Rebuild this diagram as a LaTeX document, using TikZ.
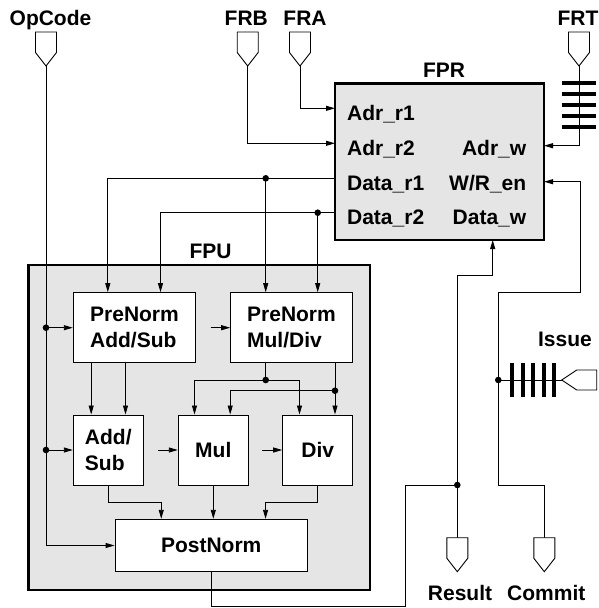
\documentclass[tikz,border=0pt]{standalone}
\usepackage{fontspec}
\setmainfont{Liberation Sans}
\usetikzlibrary{arrows.meta,calc}

\begin{document}
\begin{tikzpicture}[x=1pt, y=-1pt, line width=0.9pt,
    every node/.style={font=\bfseries\fontsize{21}{26}\selectfont, inner sep=0pt},
    >={Triangle[length=9pt,width=5pt]},
    port/.pic={\draw[fill=white] (0,0) -- (-10.5,-13.5) -- (-10.5,-34) -- (10.5,-34) -- (10.5,-13.5) -- cycle;}]
  \tikzstyle{unit}=[rectangle, draw, fill=white, line width=1pt, align=left]
  \tikzstyle{block}=[rectangle, draw, fill=gray!20, line width=2.4pt]

  \useasboundingbox (0,0) rectangle (599,608);

  % register file and unit
  \node[block, minimum width=341.7pt, minimum height=325pt] (fpu) at (199.2,427.5) {};
  \node[block, minimum width=209pt, minimum height=156.7pt] (fpr) at (439.5,161.7) {};

  \node[unit, minimum width=122.4pt, minimum height=70pt] (prea) at (134.5,327.7) {PreNorm\\Add/Sub};
  \node[unit, minimum width=121.6pt, minimum height=70pt] (prem) at (291.5,327.7) {PreNorm\\Mul/Div};
  \node[unit, minimum size=70pt] (addsub) at (108.3,450) {Add/\\Sub};
  \node[unit, minimum size=70pt] (mul) at (213.3,450) {Mul};
  \node[unit, minimum size=70pt] (div) at (317.7,450) {Div};
  \node[unit, minimum width=192.3pt, minimum height=52.4pt] (post) at (211.2,545.5) {PostNorm};

  % labels
  \node[anchor=base] (lopc) at (50.5,25.7) {OpCode};
  \node[anchor=base] (lfrb) at (246.3,25.5) {FRB};
  \node[anchor=base] (lfra) at (305,25.5) {FRA};
  \node[anchor=base] (lfrt) at (578,25.5) {FRT};
  \node[anchor=base] (lfpr) at (444,77.3) {FPR};
  \node[anchor=base] (lfpu) at (210.5,258.3) {FPU};
  \node[anchor=base] (liss) at (565,346) {Issue};
  \node[anchor=base] (lres) at (460,600) {Result};
  \node[anchor=base] (lcom) at (546.3,600) {Commit};

  \node[anchor=base west] (ar1) at (346.7,120) {Adr\_r1};
  \node[anchor=base west] (ar2) at (346.7,155) {Adr\_r2};
  \node[anchor=base west] (dr1) at (346.7,190) {Data\_r1};
  \node[anchor=base west] (dr2) at (346.7,224.5) {Data\_r2};
  \node[anchor=base east] (aw) at (526.7,155) {Adr\_w};
  \node[anchor=base east] (wr) at (526.7,190) {W/R\_en};
  \node[anchor=base east] (dw) at (526.7,224.5) {Data\_w};

  % pins
  \coordinate (opc) at (46,66);
  \coordinate (frb) at (247.7,66);
  \coordinate (fra) at (300,66);
  \coordinate (frt) at (579,66);
  \coordinate (res) at (457.3,537.7);
  \coordinate (com) at (544.3,537.7);
  \coordinate (iss) at (561.7,380);

  % ports of FPR
  \coordinate (p-ar1) at (335,108.3);
  \coordinate (p-ar2) at (335,143.3);
  \coordinate (p-aw) at (544,145.7);
  \coordinate (p-wr) at (544,181.7);
  \coordinate (p-dw) at (492.7,240);

  % addresses
  \draw[->] (fra) |- (p-ar1);
  \draw[->] (frb) |- (p-ar2);
  \draw[->] (frt) |- (p-aw);
  \foreach \y in {83.3,94.3,105,116,126.5}
    \draw[line width=4pt] (561.7,\y) -- (596,\y);

  % operands
  \coordinate (j1) at (265.7,178.3);
  \coordinate (j2) at (317.7,212.7);
  \draw[->] (fpr.west |- j1) -| ([xshift=35pt]prea.north west);
  \draw[->] (fpr.west |- j2) -| ([xshift=-35.7pt]prea.north east);
  \draw[->] (j1) -- (j1 |- prem.north);
  \draw[->] (j2) -- (j2 |- prem.north);
  \fill (j1) circle (3.3);
  \fill (j2) circle (3.3);

  % opcode
  \draw[->] (opc) |- (post.west);
  \draw[->] (opc |- prea.west) -- (prea.west);
  \draw[->] (opc |- addsub.west) -- (addsub.west);
  \fill (opc |- prea.west) circle (3.3);
  \fill (opc |- addsub.west) circle (3.3);

  % pre-normalisation
  \draw[->, shorten <=14.3pt] (prea.east) -- (prem.west);
  \draw[->] ([xshift=18.4pt]prea.south west) -- ([xshift=18.4pt]addsub.north west);
  \draw[->] ([xshift=52.7pt]prea.south west) -- ([xshift=52.7pt]addsub.north west);
  \coordinate (j3) at (265.7,380);
  \coordinate (j4) at (335,390.7);
  \draw (j3 |- prem.south) -- (j3);
  \draw (j4 |- prem.south) -- (j4);
  \draw[->] (j3) -| ([xshift=16.7pt]mul.north west);
  \draw[->] (j3) -| ([xshift=17.3pt]div.north west);
  \draw[->] (j4) -| ([xshift=52.4pt]mul.north west);
  \draw[->] (j4) -- (j4 |- div.north);
  \fill (j3) circle (3.3);
  \fill (j4) circle (3.3);

  % execution
  \draw[->, shorten <=14pt] (addsub.east) -- (mul.west);
  \draw[->, shorten <=13.4pt] (mul.east) -- (div.west);
  \draw[->] (addsub.south) -- ++(0,16.7) -| ([xshift=46.7pt]post.north west);
  \draw[->] (mul.south) -- (mul.south |- post.north);
  \draw[->] (div.south) -- ++(0,16.7) -| ([xshift=-42.3pt]post.north east);

  % result
  \coordinate (j5) at (457.3,485);
  \draw (post.south) -- ++(0,34.5) -| ([xshift=-52.3pt]j5) -- (j5);
  \draw[->] (j5) |- ([yshift=-35pt]p-dw) -- (p-dw);
  \draw (j5) -- (res);
  \fill (j5) circle (3.3);

  % commit and issue
  \coordinate (j6) at (498.3,380);
  \draw[->] (com) -- ++(0,-52.7) -| ([yshift=87.7pt]j6) -| ([xshift=36pt]p-wr) -- (p-wr);
  \draw (j6) -- (iss);
  \foreach \x in {512,522.5,533,543.5,554}
    \draw[line width=4pt] (\x,363.3) -- (\x,396.7);
  \fill (j6) circle (3.3);
  \draw[fill=white] (iss) -- ++(15,-10) -- ++(20,0) -- ++(0,20) -- ++(-20,0) -- cycle;

  \pic at (opc) {port};
  \pic at (frb) {port};
  \pic at (fra) {port};
  \pic at (frt) {port};
  \pic at ([yshift=-34pt]res) {port};
  \pic at ([yshift=-34pt]com) {port};
\end{tikzpicture}
\end{document}
